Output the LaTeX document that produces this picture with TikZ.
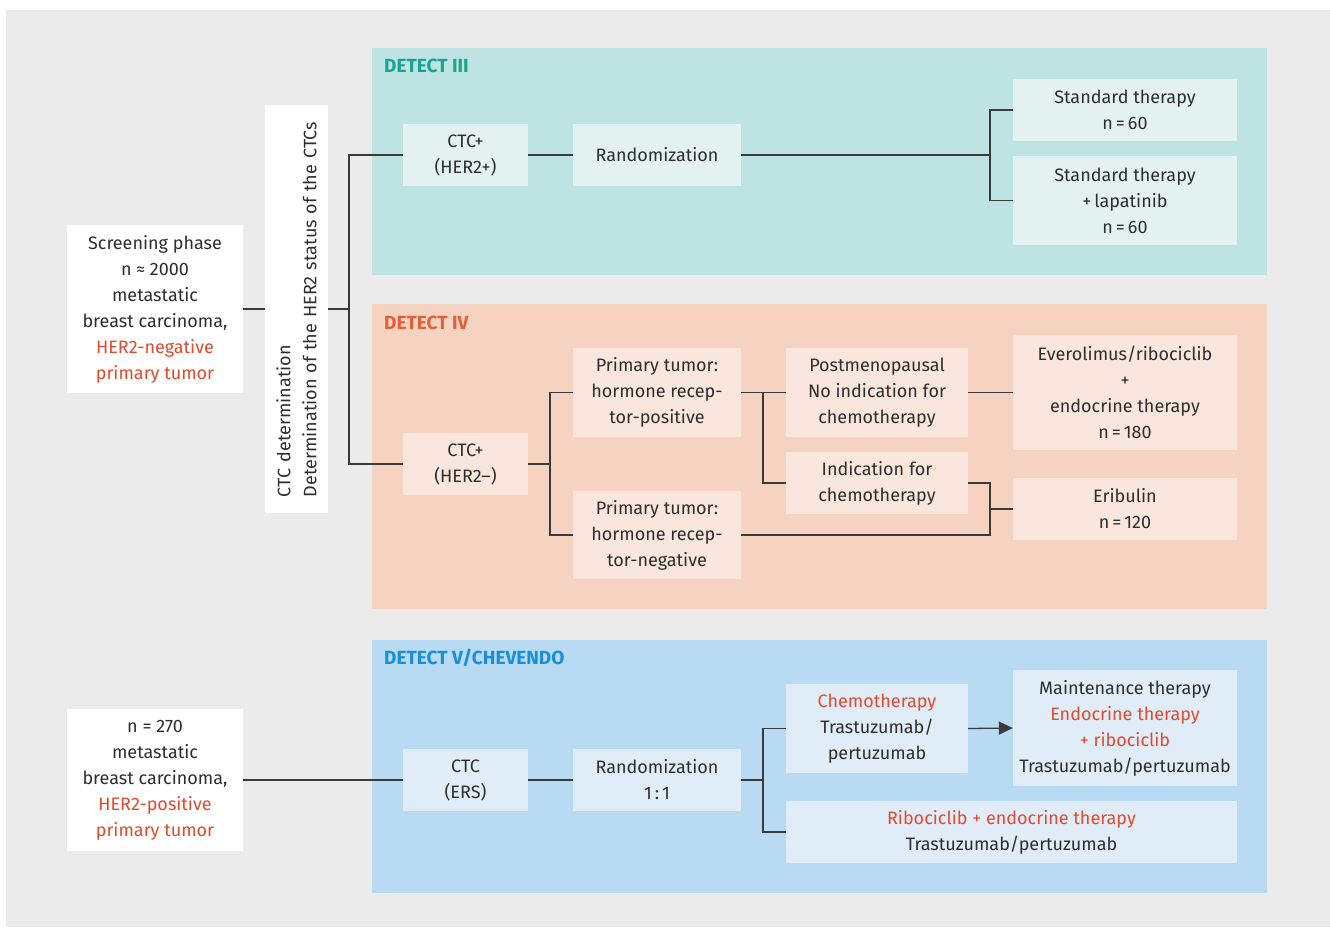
\documentclass[tikz,border=0pt]{standalone}
\usepackage{fontspec}
\setmainfont{Fira Sans}
\usetikzlibrary{arrows.meta}
\definecolor{bggray}{HTML}{EAEBEA}
\definecolor{tealpanel}{HTML}{BDE3E2}
\definecolor{tealbox}{HTML}{E3F2F0}
\definecolor{tealtitle}{HTML}{1BA392}
\definecolor{orpanel}{HTML}{F5D3C0}
\definecolor{orbox}{HTML}{F9E6DD}
\definecolor{ortitle}{HTML}{E0603A}
\definecolor{bluepanel}{HTML}{B8DAF2}
\definecolor{bluebox}{HTML}{E0EDF8}
\definecolor{bluetitle}{HTML}{1A8FD6}
\definecolor{redtxt}{HTML}{E04B2F}
\definecolor{txt}{HTML}{2E2E2E}
\definecolor{ln}{HTML}{3A3A3A}
\newcommand{\mainf}{\fontsize{18}{26}\selectfont}
\begin{document}
\begin{tikzpicture}[x=1pt,y=-1pt,
  bx/.style={align=center, inner sep=0pt, text=txt, font=\mainf},
  panel/.style={inner sep=0pt, anchor=north west},
  ttl/.style={anchor=base west, inner sep=0pt, font=\fontsize{19}{22}\selectfont\bfseries},
  conn/.style={draw=ln, line width=1.3pt},
  arr/.style={conn, -{Triangle[length=14pt,width=13pt]}}
]
\useasboundingbox (0,0) rectangle (1330,927);
\fill[white] (0,0) rectangle (1330,927);
\fill[bggray] (6,10) rectangle (1330,927);

% panels
\node[panel, fill=tealpanel, minimum width=895pt, minimum height=227pt] (p3) at (372,48) {};
\node[panel, fill=orpanel, minimum width=895pt, minimum height=305pt] (p4) at (372,304) {};
\node[panel, fill=bluepanel, minimum width=895pt, minimum height=253pt] (p5) at (372,640) {};
\node[ttl, text=tealtitle] (t3) at (384,72) {DETECT III};
\node[ttl, text=ortitle] (t4) at (384,329) {DETECT IV};
\node[ttl, text=bluetitle] (t5) at (384,664) {DETECT V/CHEVENDO};

% left column
\node[bx, fill=white, minimum width=176pt, minimum height=168pt] (scr) at (155,309)
  {Screening phase\\n ≈ 2000\\metastatic\\breast carcinoma,\\\textcolor{redtxt}{HER2-negative}\\\textcolor{redtxt}{primary tumor}};
\node[bx, fill=white, rotate=90, minimum width=408pt, minimum height=63pt, text width=376pt, align=left] (vb) at (296.5,309)
  {CTC determination\\Determination of the HER2 status of the CTCs};
\node[bx, fill=white, minimum width=176pt, minimum height=142pt] (n270) at (155,780)
  {n = 270\\metastatic\\breast carcinoma,\\\textcolor{redtxt}{HER2-positive}\\\textcolor{redtxt}{primary tumor}};

% DETECT III
\node[bx, fill=tealbox, minimum width=125pt, minimum height=62pt] (ctc3) at (465.5,155) {CTC+\\(HER2+)};
\node[bx, fill=tealbox, minimum width=168pt, minimum height=62pt] (rand3) at (657,155) {Randomization};
\node[bx, fill=tealbox, minimum width=224pt, minimum height=62pt] (st1) at (1125,110) {Standard therapy\\n\,=\,60};
\node[bx, fill=tealbox, minimum width=224pt, minimum height=89pt] (st2) at (1125,200.5) {Standard therapy\\+\,lapatinib\\n\,=\,60};

% DETECT IV
\node[bx, fill=orbox, minimum width=125pt, minimum height=62pt] (ctc4) at (465.5,464) {CTC+\\(HER2–)};
\node[bx, fill=orbox, minimum width=168pt, minimum height=89pt] (hrp) at (657,392.5) {Primary tumor:\\hormone recep-\\tor-positive};
\node[bx, fill=orbox, minimum width=168pt, minimum height=88pt] (hrn) at (657,535) {Primary tumor:\\hormone recep-\\tor-negative};
\node[bx, fill=orbox, minimum width=182pt, minimum height=89pt] (post) at (877,392.5) {Postmenopausal\\No indication for\\chemotherapy};
\node[bx, fill=orbox, minimum width=182pt, minimum height=62pt] (ind) at (877,483) {Indication for\\chemotherapy};
\node[bx, fill=orbox, minimum width=224pt, minimum height=115pt] (evero) at (1125,392.5) {Everolimus/ribociclib\\+\\endocrine therapy\\n\,=\,180};
\node[bx, fill=orbox, minimum width=224pt, minimum height=62pt] (erib) at (1125,509) {Eribulin\\n\,=\,120};

% DETECT V
\node[bx, fill=bluebox, minimum width=125pt, minimum height=62pt] (ctc5) at (465.5,780) {CTC\\(ERS)};
\node[bx, fill=bluebox, minimum width=168pt, minimum height=62pt] (rand5) at (657,780) {Randomization\\1\,:\,1};
\node[bx, fill=bluebox, minimum width=182pt, minimum height=89pt] (chemo) at (877,728.5) {\textcolor{redtxt}{Chemotherapy}\\Trastuzumab/\\pertuzumab};
\node[bx, fill=bluebox, minimum width=224pt, minimum height=116pt] (maint) at (1125,728) {Maintenance therapy\\\textcolor{redtxt}{Endocrine therapy}\\\textcolor{redtxt}{+ ribociclib}\\Trastuzumab/pertuzumab};
\node[bx, fill=bluebox, minimum width=451pt, minimum height=62pt] (ribo) at (1011.5,832) {\textcolor{redtxt}{Ribociclib + endocrine therapy}\\Trastuzumab/pertuzumab};

% junction coordinates
\coordinate (j0) at (349,309);
\coordinate (j1) at (990,155);
\coordinate (j2) at (550,464);
\coordinate (j3) at (763,392.5);
\coordinate (j4) at (990,535);
\coordinate (j6) at (763,780);

% connectors
\draw[conn] (scr.east) -- (vb.north);
\draw[conn] (vb.south) -- (j0);
\draw[conn] (ctc3.west) -| (j0) |- (ctc4.west);
\draw[conn] (ctc3.east) -- (rand3.west);
\draw[conn] (rand3.east) -- (j1);
\draw[conn] (st1.west) -| (j1) |- (st2.west);

\draw[conn] (ctc4.east) -- (j2);
\draw[conn] (hrp.west) -| (j2) |- (hrn.west);
\draw[conn] (hrp.east) -- (post.west);
\draw[conn] (j3) |- (ind.west);
\draw[conn] (post.east) -- (evero.west);
\draw[conn] (ind.east) -| (j4) -- (hrn.east);
\draw[conn] (erib.west) -- (erib.west -| j4);

\draw[conn] (n270.east) -- (ctc5.west);
\draw[conn] (ctc5.east) -- (rand5.west);
\draw[conn] (rand5.east) -- (j6);
\draw[conn] (chemo.west) -| (j6) |- (ribo.west);
\draw[arr] (chemo.east) -- (maint.west);
\end{tikzpicture}
\end{document}
